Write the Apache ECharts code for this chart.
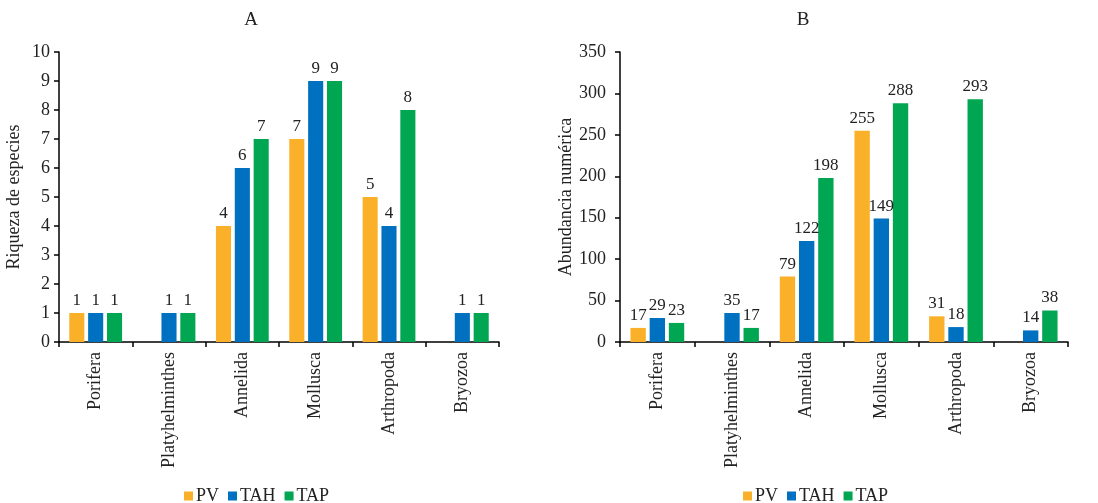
<!DOCTYPE html>
<html>
<head>
<meta charset="utf-8">
<script src="https://cdn.jsdelivr.net/npm/echarts@6/dist/echarts.min.js"></script>
<style>
  html, body { margin: 0; padding: 0; background: #fff; }
  #chart { width: 1098px; height: 503px; }
</style>
</head>
<body>
<div id="chart"></div>
<script>
// Phyla along the x axis
const categories = ['Porifera', 'Platyhelminthes', 'Annelida', 'Mollusca', 'Arthropoda', 'Bryozoa'];
const seriesNames = ['PV', 'TAH', 'TAP'];

// A: species richness per site
const richnessPV  = [1, null, 4, 7, 5, null];
const richnessTAH = [1, 1, 6, 9, 4, 1];
const richnessTAP = [1, 1, 7, 9, 8, 1];

// B: numerical abundance per site
const abundancePV  = [17, null, 79, 255, 31, null];
const abundanceTAH = [29, 35, 122, 149, 18, 14];
const abundanceTAP = [23, 17, 198, 288, 293, 38];

const colors = ['#FBB02A', '#0070C0', '#00A651'];
const serif = '"Liberation Serif", "DejaVu Serif", serif';
const ink = '#222';

const chart = echarts.init(document.getElementById('chart'), null, { renderer: 'canvas' });

function xAxis(gridIndex) {
  return {
    type: 'category', gridIndex, data: categories,
    axisLine: { lineStyle: { color: '#000', width: 1.5 } },
    axisTick: { show: true, length: 5, lineStyle: { color: '#000', width: 1.5 } },
    axisLabel: { rotate: 90, color: ink, fontFamily: serif, fontSize: 18, margin: 10 },
    splitLine: { show: false }
  };
}
function yAxis(gridIndex, max, interval, name) {
  return {
    type: 'value', gridIndex, min: 0, max, interval, name,
    nameLocation: 'middle', nameGap: gridIndex === 0 ? 36 : 45,
    nameTextStyle: { color: ink, fontFamily: serif, fontSize: 18 },
    axisLine: { show: true, lineStyle: { color: '#000', width: 1.5 } },
    axisTick: { show: true, length: 5, lineStyle: { color: '#000', width: 1.5 } },
    axisLabel: { color: ink, fontFamily: serif, fontSize: 18, margin: gridIndex === 0 ? 9 : 14 },
    splitLine: { show: false }
  };
}
function bars(name, data, idx, colorIdx) {
  return {
    name, type: 'bar', xAxisIndex: idx, yAxisIndex: idx, data,
    itemStyle: { color: colors[colorIdx] },
    barGap: '25%', barCategoryGap: '28%',
    label: { show: true, position: 'top', distance: 4, color: ink, fontFamily: serif, fontSize: 17 }
  };
}
function legend(left, suffix) {
  return {
    data: seriesNames.map(n => n + suffix), left, top: 482,
    itemWidth: 9, itemHeight: 9, itemGap: 9, icon: 'rect',
    formatter: n => n.trim(),
    textStyle: { fontFamily: serif, fontSize: 18, color: ink, padding: [0, 0, 0, -2] }
  };
}

chart.setOption({
  animation: false,
  color: colors,
  title: [
    { text: 'A', left: 246, top: 6, textAlign: 'center', textStyle: { fontFamily: serif, fontSize: 19, fontWeight: 'normal', color: ink } },
    { text: 'B', left: 798, top: 6, textAlign: 'center', textStyle: { fontFamily: serif, fontSize: 19, fontWeight: 'normal', color: ink } }
  ],
  legend: [legend(179, ''), legend(738, ' ')],
  grid: [
    { left: 59, top: 52, width: 440, height: 290 },
    { left: 620, top: 52, width: 448, height: 290 }
  ],
  xAxis: [xAxis(0), xAxis(1)],
  yAxis: [yAxis(0, 10, 1, 'Riqueza de especies'), yAxis(1, 350, 50, 'Abundancia numérica')],
  series: [
    bars('PV', richnessPV, 0, 0),
    bars('TAH', richnessTAH, 0, 1),
    bars('TAP', richnessTAP, 0, 2),
    bars('PV ', abundancePV, 1, 0),
    bars('TAH ', abundanceTAH, 1, 1),
    bars('TAP ', abundanceTAP, 1, 2)
  ]
});
</script>
</body>
</html>
